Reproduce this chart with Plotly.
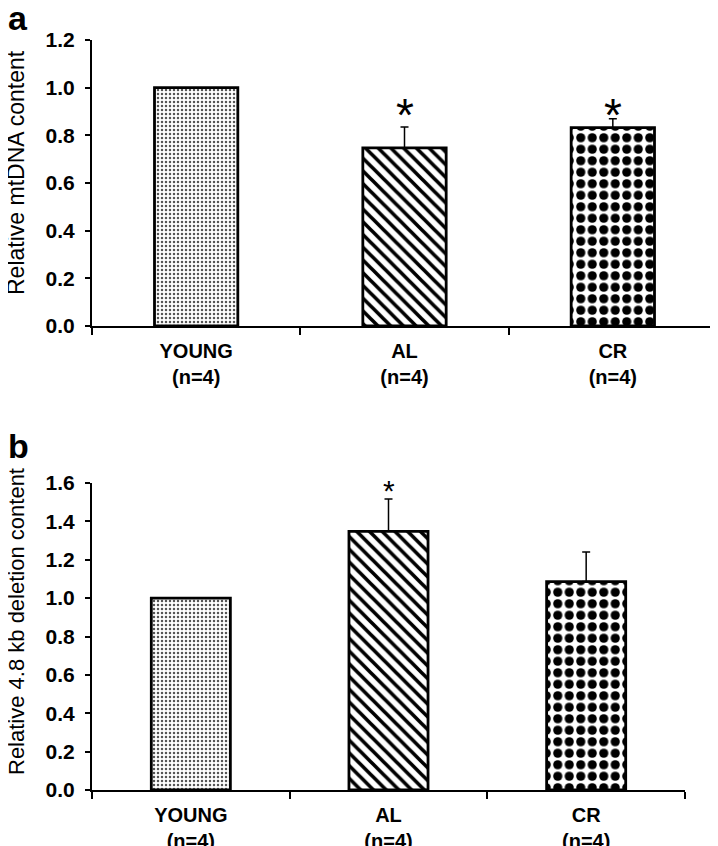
import plotly.graph_objects as go

# ---- data ----
categories = ["YOUNG", "AL", "CR"]
n_labels = ["(n=4)", "(n=4)", "(n=4)"]

mtdna_values = [1.0, 0.747, 0.832]
mtdna_errors = [0.0, 0.088, 0.038]
mtdna_sig = ["", "*", "*"]
mtdna_sig_level = 0.92

deletion_values = [1.0, 1.348, 1.086]
deletion_errors = [0.0, 0.168, 0.154]
deletion_sig = ["", "*", ""]
deletion_sig_level = 1.575

panel_a_ticks = [0.0, 0.2, 0.4, 0.6, 0.8, 1.0, 1.2]
panel_b_ticks = [0.0, 0.2, 0.4, 0.6, 0.8, 1.0, 1.2, 1.4, 1.6]

panel_a_title = "Relative mtDNA content"
panel_b_title = "Relative 4.8 kb deletion content"

W, H = 718, 846
OFF = 8  # page body margin
FONT = "Liberation Sans, Arial, sans-serif"

xlabels = [f"<b>{c}<br>{n}</b>" for c, n in zip(categories, n_labels)]

pattern = dict(
    shape=[".", "\\", "."],
    fgcolor=["#555555", "black", "black"],
    bgcolor=["white", "white", "white"],
    size=[4, 9, 11.5],
    solidity=[0.3, 0.4, 0.5],
    fillmode="replace",
)

fig = go.Figure()

def add_panel(values, errors, xa, ya):
    fig.add_trace(go.Bar(
        x=xlabels, y=values, xaxis=xa, yaxis=ya, width=0.4,
        marker=dict(color="white", line=dict(color="black", width=2.8), pattern=pattern),
        error_y=dict(type="data", array=errors, arrayminus=[0, 0, 0], symmetric=False,
                     color="black", thickness=1.5, width=4),
        showlegend=False, hoverinfo="skip",
    ))

add_panel(mtdna_values, mtdna_errors, "x", "y")
add_panel(deletion_values, deletion_errors, "x2", "y2")

axis_common = dict(showline=True, linecolor="black", linewidth=2, showgrid=False,
                   zeroline=False, ticks="outside", tickcolor="black", automargin=False)

def sx(p):
    return min(1.0, (p - OFF) / W)

def sy(p):
    return 1 - (p - OFF) / H

fig.update_layout(
    width=W, height=H, margin=dict(l=0, r=0, t=0, b=0, autoexpand=False),
    paper_bgcolor="white", plot_bgcolor="white",
    font=dict(family=FONT, color="black"),
    xaxis=dict(domain=[sx(92), sx(717)], anchor="y", type="category", tickson="boundaries",
               ticklen=7, tickwidth=1.5, tickfont=dict(size=20), ticklabelstandoff=6,
               **axis_common),
    yaxis=dict(domain=[sy(326), sy(40)], anchor="x", range=[0, 1.2], tickvals=panel_a_ticks,
               ticktext=[f"<b>{v:.1f}</b>" for v in panel_a_ticks],
               ticklen=5, tickwidth=1.5, tickfont=dict(size=21), ticklabelstandoff=6,
               **axis_common),
    xaxis2=dict(domain=[sx(92), sx(685)], anchor="y2", type="category", tickson="boundaries",
                ticklen=7, tickwidth=1.5, tickfont=dict(size=20), ticklabelstandoff=6,
                **axis_common),
    yaxis2=dict(domain=[sy(790), sy(483)], anchor="x2", range=[0, 1.6], tickvals=panel_b_ticks,
                ticktext=[f"<b>{v:.1f}</b>" for v in panel_b_ticks],
                ticklen=5, tickwidth=1.5, tickfont=dict(size=21), ticklabelstandoff=6,
                **axis_common),
)

annotations = [
    dict(text="<b>a</b>", x=0, y=1.0, xref="paper", yref="paper", xanchor="left", yanchor="top",
         showarrow=False, font=dict(size=34), yshift=11, xshift=-2),
    dict(text="<b>b</b>", x=0, y=sy(435), xref="paper", yref="paper", xanchor="left", yanchor="top",
         showarrow=False, font=dict(size=34), yshift=10, xshift=-2),
    dict(text=panel_a_title, x=sx(16), y=sy(173), xref="paper", yref="paper", textangle=-90,
         xanchor="center", yanchor="middle", showarrow=False, font=dict(size=23)),
    dict(text=panel_b_title, x=sx(16), y=sy(622), xref="paper", yref="paper", textangle=-90,
         xanchor="center", yanchor="middle", showarrow=False, font=dict(size=22)),
]
for lab, s in zip(xlabels, mtdna_sig):
    if s:
        annotations.append(dict(text=s, x=lab, y=mtdna_sig_level, xref="x", yref="y",
                                yanchor="middle", showarrow=False, font=dict(size=46), yshift=-8))
for lab, s in zip(xlabels, deletion_sig):
    if s:
        annotations.append(dict(text=s, x=lab, y=deletion_sig_level, xref="x2", yref="y2",
                                yanchor="middle", showarrow=False, font=dict(size=30), yshift=-3))
fig.update_layout(annotations=annotations)

fig.write_html("out.html")
